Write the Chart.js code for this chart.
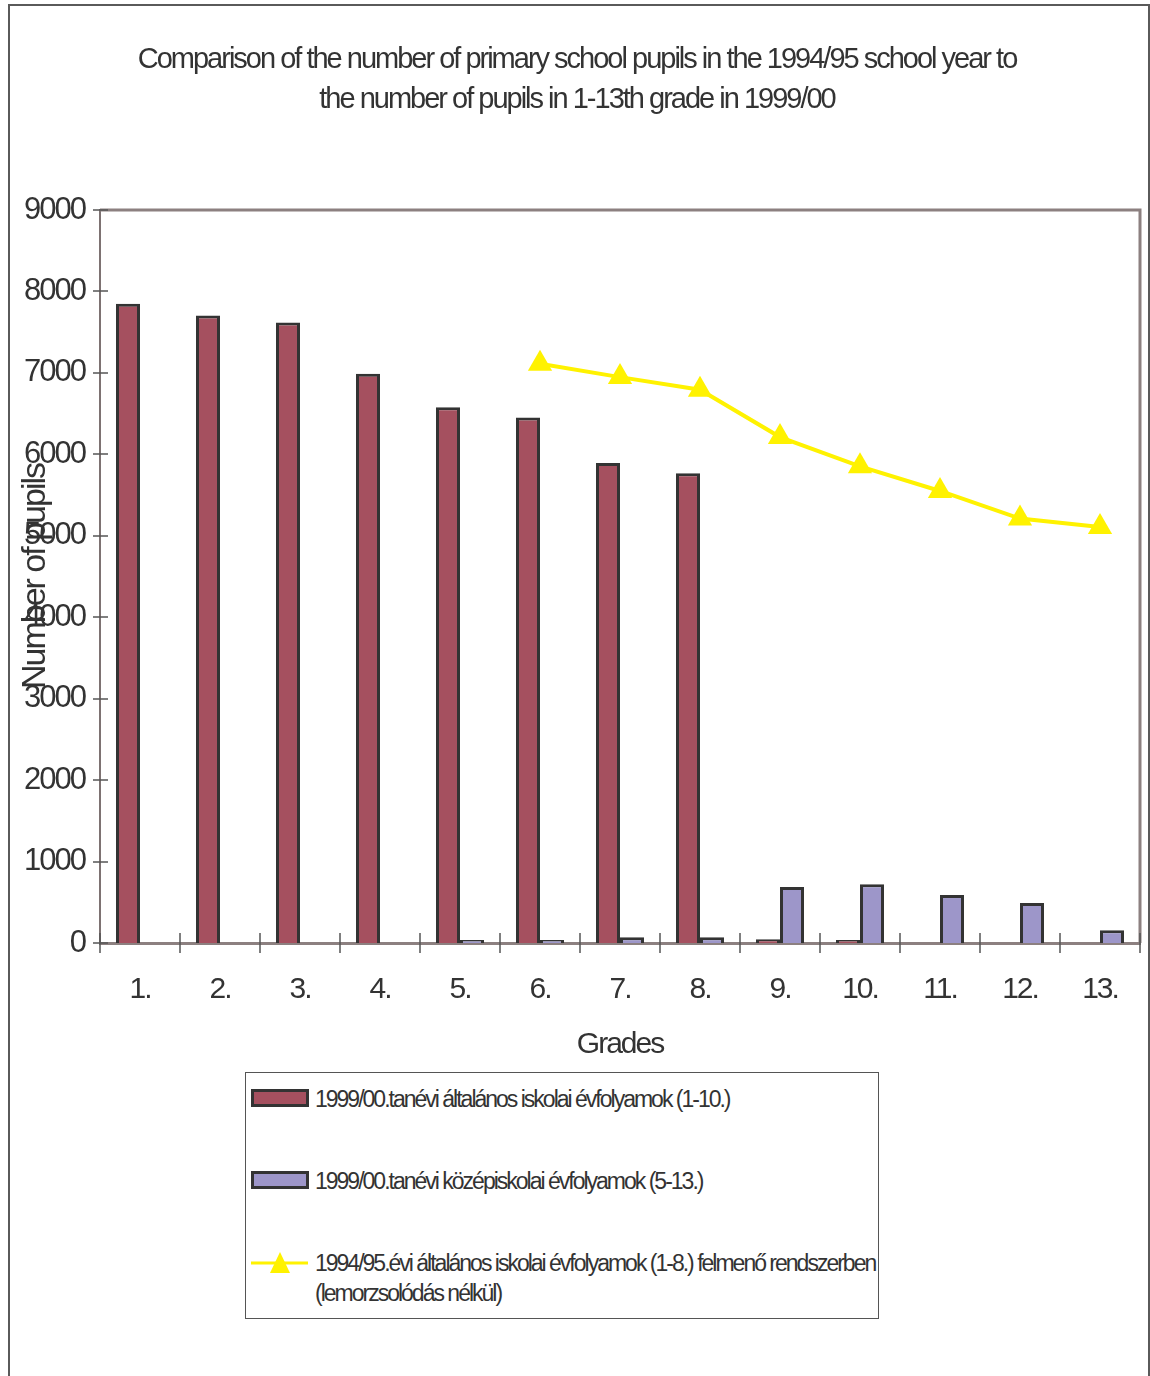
<!DOCTYPE html>
<html>
<head>
<meta charset="utf-8">
<script src="https://cdn.jsdelivr.net/npm/chart.js@4"></script>
<style>
  html, body { margin: 0; padding: 0; background: #fff; overflow: hidden; }
  body { width: 1150px; height: 1376px; position: relative; font-family: 'Liberation Sans', Arial, sans-serif; }
  #frame { position: absolute; left: 8px; top: 4px; width: 1138px; height: 1420px; border: 2px solid #5a5a5a; }
  #wrap { position: absolute; left: 0; top: 0; width: 1154px; height: 1070px; }
  #legend {
    position: absolute; left: 245px; top: 1072px; width: 634px; height: 247px;
    box-sizing: border-box; border: 1px solid #555; padding-top: 11px; overflow: hidden;
    font-size: 23px; letter-spacing: -2px; color: #333;
  }
  .item { display: flex; align-items: flex-start; line-height: 30px; margin-bottom: 52px; }
  .item .mark { flex: none; width: 60px; height: 30px; margin-left: 5px; margin-right: 4px; position: relative; }
  .item .txt { white-space: pre; }
</style>
</head>
<body>
<div id="frame"></div>
<div id="wrap"><canvas id="gradeChart" width="1154" height="1070"></canvas></div>
<div id="legend"></div>
<script>
// grades on the x axis
const grades = ['1.', '2.', '3.', '4.', '5.', '6.', '7.', '8.', '9.', '10.', '11.', '12.', '13.'];

// 1999/00 primary school grades (1-10.)
const primary9900 = [7850, 7705, 7620, 6990, 6578, 6453, 5893, 5768, 45, 15, null, null, null];
// 1999/00 secondary school grades (5-13.)
const secondary9900 = [null, null, null, null, 10, 10, 70, 70, 687, 720, 589, 491, 156];
// 1994/95 primary grades carried forward (no dropout)
const primary9495 = [null, null, null, null, null, 7112, 6948, 6793, 6212, 5853, 5550, 5211, 5108];

const yTicks = { min: 0, max: 9000, step: 1000 };

const seriesLabels = [
    '1999/00.tanévi általános iskolai évfolyamok (1-10.)',
    '1999/00.tanévi középiskolai évfolyamok (5-13.)',
    '1994/95.évi általános iskolai évfolyamok (1-8.) felmenő rendszerben\n(lemorzsolódás nélkül)'
];

const FONT = "'Liberation Sans', Arial, sans-serif";
const TEXT = '#333333';

// condensed look of the original text
const tightText = {
    id: 'tightText',
    beforeUpdate(chart) { chart.ctx.letterSpacing = '-2px'; },
    beforeLayout(chart) { chart.ctx.letterSpacing = '-2px'; },
    beforeDraw(chart) { chart.ctx.letterSpacing = '-2px'; }
};

// plot frame (top / right) and tick marks crossing the axes
const plotFrame = {
    id: 'plotFrame',
    beforeDatasetsDraw(chart) {
        const { ctx, chartArea: a } = chart;
        ctx.save();
        ctx.strokeStyle = '#8c8080';
        ctx.lineWidth = 3;
        ctx.beginPath();
        ctx.moveTo(a.left, a.top);
        ctx.lineTo(a.right, a.top);
        ctx.lineTo(a.right, a.bottom);
        ctx.stroke();
        ctx.restore();
    },
    afterDraw(chart) {
        const { ctx } = chart;
        const xs = chart.scales.x, ys = chart.scales.y;
        ctx.save();
        ctx.strokeStyle = '#555';
        ctx.lineWidth = 1.5;
        ctx.beginPath();
        const n = xs.getLabels().length;
        for (let i = 0; i <= n; i++) {
            const px = Math.round(xs.left + i * xs.width / n);
            ctx.moveTo(px, ys.bottom - 10);
            ctx.lineTo(px, ys.bottom + 10);
        }
        ys.ticks.forEach((t, i) => {
            const py = Math.round(ys.getPixelForTick(i));
            ctx.moveTo(xs.left - 7, py);
            ctx.lineTo(xs.left + 8, py);
        });
        ctx.stroke();
        ctx.restore();
    }
};

const ctx = document.getElementById('gradeChart').getContext('2d');
const gradeChart = new Chart(ctx, {
    type: 'bar',
    data: {
        labels: grades,
        datasets: [
            {
                label: seriesLabels[0],
                data: primary9900,
                backgroundColor: '#a5505f',
                borderColor: '#333333',
                borderWidth: 3,
                borderSkipped: 'bottom',
                minBarLength: 3,
                order: 2
            },
            {
                label: seriesLabels[1],
                data: secondary9900,
                backgroundColor: '#9d96c9',
                borderColor: '#333333',
                borderWidth: 3,
                borderSkipped: 'bottom',
                minBarLength: 3,
                order: 2
            },
            {
                type: 'line',
                label: seriesLabels[2],
                data: primary9495,
                borderColor: '#fff200',
                backgroundColor: '#fff200',
                borderWidth: 4,
                pointStyle: 'triangle',
                pointRadius: 14,
                pointBorderWidth: 0,
                tension: 0,
                spanGaps: false,
                order: 0
            }
        ]
    },
    options: {
        responsive: false,
        animation: false,
        devicePixelRatio: 1,
        layout: { padding: { left: 0, right: 0, top: 0, bottom: 0 } },
        datasets: {
            bar: { categoryPercentage: 0.6, barPercentage: 1.0 }
        },
        plugins: {
            legend: { display: false },
            tooltip: { enabled: false },
            title: {
                display: true,
                text: [
                    'Comparison of the number of primary school pupils in the 1994/95 school year to',
                    'the number of pupils in 1-13th grade in 1999/00'
                ],
                color: TEXT,
                font: { family: FONT, size: 29, weight: 'normal', lineHeight: 40 / 29 },
                padding: { top: 40, bottom: 90 }
            }
        },
        scales: {
            x: {
                grid: { display: false, drawTicks: false },
                border: { display: true, color: '#8c8080', width: 3 },
                ticks: { color: TEXT, font: { family: FONT, size: 30 }, padding: 29 },
                title: {
                    display: true,
                    text: 'Grades',
                    color: TEXT,
                    font: { family: FONT, size: 30 },
                    padding: { top: 0, bottom: 7 }
                },
                afterFit(scale) {
                    scale.height = 127;
                    scale.paddingLeft = 0;
                    scale.paddingRight = 0;
                }
            },
            y: {
                min: yTicks.min,
                max: yTicks.max,
                grid: { display: false, drawTicks: false },
                border: { display: true, color: '#7d7272', width: 2 },
                ticks: {
                    stepSize: yTicks.step,
                    color: TEXT,
                    font: { family: FONT, size: 31 },
                    padding: 15,
                    callback: v => String(v)
                },
                title: {
                    display: true,
                    text: 'Number of pupils',
                    color: TEXT,
                    font: { family: FONT, size: 34 },
                    padding: { top: 15, bottom: 0 }
                },
                afterFit(scale) { scale.width = 100; }
            }
        }
    },
    plugins: [tightText, plotFrame]
});

// HTML legend built from the chart's datasets
const legendBox = document.getElementById('legend');
gradeChart.data.datasets.forEach(ds => {
    const item = document.createElement('div');
    item.className = 'item';
    let mark;
    if (ds.type === 'line') {
        mark = '<svg width="60" height="30"><line x1="0" y1="15" x2="57" y2="15" stroke="' + ds.borderColor +
            '" stroke-width="3"/><polygon points="29,4 19,25 39,25" fill="' + ds.backgroundColor + '"/></svg>';
    } else {
        mark = '<svg width="60" height="30"><rect x="1.5" y="6.5" width="55" height="15" fill="' + ds.backgroundColor +
            '" stroke="' + ds.borderColor + '" stroke-width="3"/></svg>';
    }
    item.innerHTML = '<div class="mark">' + mark + '</div><div class="txt"></div>';
    item.querySelector('.txt').textContent = ds.label;
    legendBox.appendChild(item);
});
</script>
</body>
</html>
